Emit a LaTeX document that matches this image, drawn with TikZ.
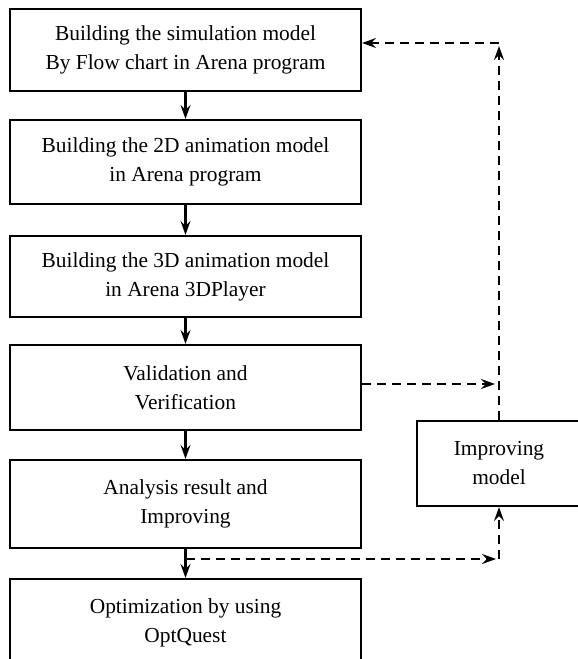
\documentclass[tikz,border=0pt]{standalone}
\usepackage{fontspec}
\setmainfont{Liberation Serif}
\usetikzlibrary{arrows.meta}
\begin{document}
\begin{tikzpicture}[x=1pt,y=-1pt,
  box/.style={draw,line width=2.2pt,minimum width=351pt,minimum height=84pt,align=center,inner sep=0pt,
    font=\fontsize{21.4}{29}\selectfont},
  ibox/.style={box,minimum width=164pt,minimum height=85pt},
  flow/.style={line width=2.2pt,-{Stealth[length=14pt,width=10pt,inset=5pt]}},
  back/.style={flow,dash pattern=on 9pt off 6pt}]
\useasboundingbox (0,0) rectangle (578,659);
\node[box,minimum height=82pt] (b1) at (185.5,50) {Building the simulation model\\By Flow chart in Arena program};
\node[box] (b2) at (185.5,162) {Building the 2D animation model\\in Arena program};
\node[box,minimum height=81pt] (b3) at (185.5,276.5) {Building the 3D animation model\\in Arena 3DPlayer};
\node[box,minimum height=85pt] (b4) at (185.5,387.5) {Validation and\\Verification};
\node[box,minimum height=88pt] (b5) at (185.5,504) {Analysis result and\\Improving};
\node[box,minimum height=88pt] (b6) at (185.5,623) {Optimization by using\\OptQuest};
\node[ibox] (im) at (499,463.5) {Improving\\model};
\coordinate (tr) at (499,43);
\coordinate (c4) at (499,384);
\coordinate (j) at (186,559);
\coordinate (br) at (499,559);
\draw[flow] (b1) -- (b2);
\draw[flow] (b2) -- (b3);
\draw[flow] (b3) -- (b4);
\draw[flow] (b4) -- (b5);
\draw[flow] (b5) -- (b6);
\draw[back,shorten >=3pt] (im.north) -- (tr);
\draw[back] (tr) -- (b1.east |- tr);
\draw[back,shorten >=4pt] (b4.east |- c4) -- (c4);
\draw[back,shorten >=3pt] (j) -- (br);
\draw[back] (br) -- (im.south);
\end{tikzpicture}
\end{document}
